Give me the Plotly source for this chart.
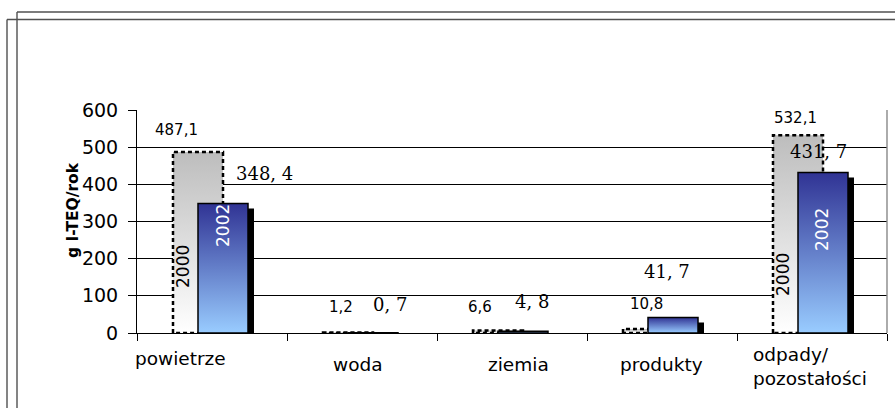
import plotly.graph_objects as go

# ---- data -------------------------------------------------------------
categories = ["powietrze", "woda", "ziemia", "produkty", "odpady/ pozostałości"]
series_names = ["2000", "2002"]
values_2000 = [487.1, 1.2, 6.6, 10.8, 532.1]
values_2002 = [348.4, 0.7, 4.8, 41.7, 431.7]
y_ticks = [0, 100, 200, 300, 400, 500, 600]
y_title = "g I-TEQ/rok"

# ---- page geometry ----------------------------------------------------
W, H = 895, 408
ML, MR, MT, MB = 137, 8, 110, 75
PW, PH = W - ML - MR, H - MT - MB
Y_MAX = 600
CAT_PX = PW / len(categories)
UNIT_PER_PX = Y_MAX / PH

BAR_W = 50 / CAT_PX
OFF_2000 = -14 / CAT_PX
OFF_2002 = 11 / CAT_PX
SHADOW_DX = 6 / CAT_PX
SHADOW_TOP = 5 * UNIT_PER_PX
SHADOW_BOTTOM = -3 * UNIT_PER_PX

SANS = "DejaVu Sans"
SERIF = "DejaVu Serif"


def px_x(px):
    return (px - ML) / PW


def px_y(py):
    return (H - MB - py) / PH


def rect(xc, w, y0, y1):
    x0, x1 = xc - w / 2, xc + w / 2
    return [x0, x0, x1, x1, x0], [y0, y1, y1, y0, y0]


fig = go.Figure()

# 2000 series: grey-to-white gradient with a dashed outline
for i, v in enumerate(values_2000):
    xs, ys = rect(i + OFF_2000, BAR_W, 0, v)
    fig.add_trace(go.Scatter(
        x=xs, y=ys, mode="lines", fill="toself",
        fillgradient=dict(type="vertical",
                          colorscale=[[0, "#ffffff"], [1, "#bdbdbd"]]),
        line=dict(color="black", width=2.5, dash="4px,3px"),
        name=series_names[0], showlegend=False, hoverinfo="skip"))

# drop shadow behind the 2002 series
for i, v in enumerate(values_2002):
    xs, ys = rect(i + OFF_2002 + SHADOW_DX, BAR_W, SHADOW_BOTTOM, v - SHADOW_TOP)
    fig.add_trace(go.Scatter(
        x=xs, y=ys, mode="lines", fill="toself", fillcolor="black",
        line=dict(color="black", width=0),
        showlegend=False, hoverinfo="skip"))

# 2002 series: navy-to-light-blue gradient
for i, v in enumerate(values_2002):
    xs, ys = rect(i + OFF_2002, BAR_W, 0, v)
    fig.add_trace(go.Scatter(
        x=xs, y=ys, mode="lines", fill="toself",
        fillgradient=dict(type="vertical",
                          colorscale=[[0, "#99ccff"], [1, "#303394"]]),
        line=dict(color="black", width=1.5),
        name=series_names[1], showlegend=False, hoverinfo="skip"))

annotations = []

# value labels (pixel offsets from the top centre of each bar)
lab_off_2000 = [(-22, -22), (-7, -26), (-18, -24), (-2, -25), (-3, -17)]
lab_off_2002 = [(41, -30), (17, -28), (9, -30), (-6, -46), (-5, -21)]
for i, v in enumerate(values_2000):
    dx, dy = lab_off_2000[i]
    annotations.append(dict(
        x=i + OFF_2000, y=v, xref="x", yref="y", xshift=dx, yshift=-dy,
        text=f"{v:.1f}".replace(".", ","), showarrow=False,
        font=dict(family=SANS, size=15, color="black")))
for i, v in enumerate(values_2002):
    dx, dy = lab_off_2002[i]
    annotations.append(dict(
        x=i + OFF_2002, y=v, xref="x", yref="y", xshift=dx, yshift=-dy,
        text=f"{v:.1f}".replace(".", ", "), showarrow=False,
        font=dict(family=SERIF, size=18, color="black")))

# series names written inside the two large bar pairs
inbar = [
    (0, OFF_2000, -15, 66, series_names[0], "black"),
    (0, OFF_2002, 0, 107, series_names[1], "white"),
    (4, OFF_2000, -15, 58, series_names[0], "black"),
    (4, OFF_2002, -1, 103, series_names[1], "white"),
]
for i, off, dx, up, txt, col in inbar:
    annotations.append(dict(
        x=i + off, y=0, xref="x", yref="y", xshift=dx, yshift=up,
        text=txt, textangle=-90, showarrow=False,
        font=dict(family=SANS, size=17, color=col)))

# category labels under the axis
cat_pos = [(-32, 358), (-4, 364), (6, 364), (-1, 364), (-2, 366.5)]
for i, name in enumerate(categories):
    dx, py = cat_pos[i]
    annotations.append(dict(
        x=i, y=px_y(py), xref="x", yref="paper", xshift=dx,
        xanchor="center", yanchor="middle", align="left",
        text=name.replace("/ ", "/<br>"), showarrow=False,
        font=dict(family=SANS, size=18.5, color="black")))

# axis title
annotations.append(dict(
    x=px_x(62), y=px_y(210), xref="paper", yref="paper",
    text=f"<b>{y_title}</b>", textangle=-90, showarrow=False,
    font=dict(family=SANS, size=15.5, color="black")))

# double page frame and right border of the plot area
frame = "#505050"
shapes = []
for fx, fy in [(17, 12), (7, 19.5)]:
    shapes.append(dict(type="line", xref="paper", yref="paper",
                       x0=px_x(fx), x1=px_x(W + 2), y0=px_y(fy), y1=px_y(fy),
                       line=dict(color=frame, width=1.4)))
    shapes.append(dict(type="line", xref="paper", yref="paper",
                       x0=px_x(fx), x1=px_x(fx), y0=px_y(fy), y1=px_y(H + 2),
                       line=dict(color=frame, width=1.4)))
shapes.append(dict(type="line", xref="paper", yref="paper",
                   x0=1, x1=1, y0=0, y1=1,
                   line=dict(color="#888888", width=1.4)))

n = len(categories)
fig.update_layout(
    width=W, height=H,
    margin=dict(l=ML, r=MR, t=MT, b=MB, pad=0),
    paper_bgcolor="white", plot_bgcolor="white",
    showlegend=False,
    annotations=annotations, shapes=shapes,
    xaxis=dict(range=[-0.5, n - 0.5],
               tickvals=[k - 0.5 for k in range(n + 1)],
               showticklabels=False, ticks="outside", ticklen=7,
               tickcolor="black", showline=True, linecolor="black",
               linewidth=1, showgrid=False, zeroline=False, fixedrange=True),
    yaxis=dict(range=[0, Y_MAX], tickvals=y_ticks,
               ticks="outside", ticklen=8, tickcolor="black",
               tickfont=dict(family=SANS, size=19, color="black"),
               ticklabelstandoff=6,
               showline=True, linecolor="black", linewidth=1,
               showgrid=True, gridcolor="black", gridwidth=1,
               zeroline=False, fixedrange=True),
)

fig.write_html("out.html", config={"displayModeBar": False})
